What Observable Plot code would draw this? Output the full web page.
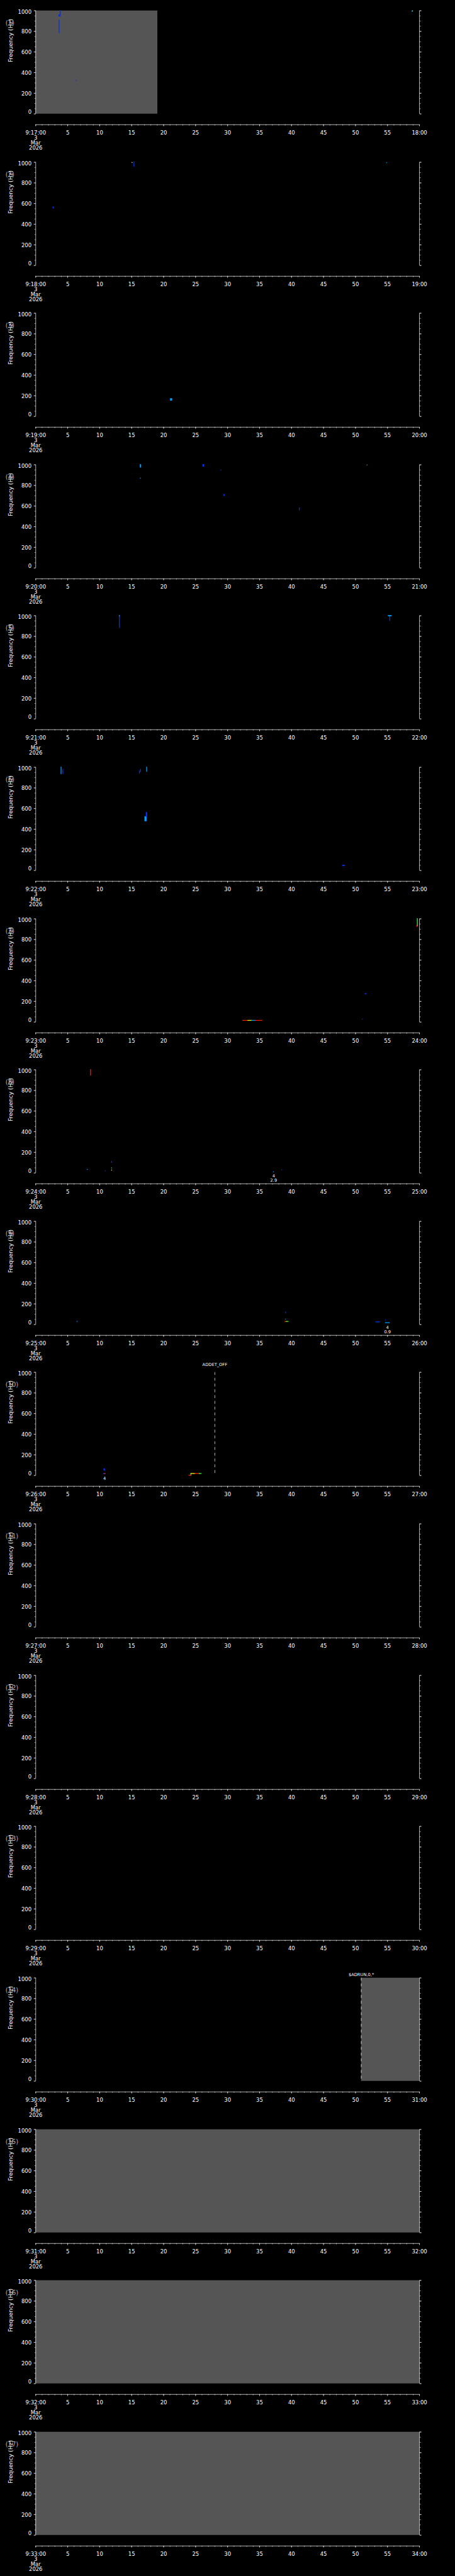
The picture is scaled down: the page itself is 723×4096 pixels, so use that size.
<!DOCTYPE html>
<html><head><meta charset="utf-8">
<script src="https://cdn.jsdelivr.net/npm/d3@7"></script>
<script src="https://cdn.jsdelivr.net/npm/@observablehq/plot@0.6"></script>
<style>html,body{margin:0;padding:0;background:#000;} #chart svg{display:block;}</style>
</head><body><div id="chart"></div>
<script>
// ---- tick labels ----
const startLabels = ["9:17:00","9:18:00","9:19:00","9:20:00","9:21:00","9:22:00","9:23:00","9:24:00","9:25:00","9:26:00","9:27:00","9:28:00","9:29:00","9:30:00","9:31:00","9:32:00","9:33:00"];
const endLabels = ["18:00","19:00","20:00","21:00","22:00","23:00","24:00","25:00","26:00","27:00","28:00","29:00","30:00","31:00","32:00","33:00","34:00"];
const dateLines = ["3", "Mar", "2026"];
const panelNames = ["(1)","(2)","(3)","(4)","(5)","(6)","(7)","(8)","(9)","(10)","(11)","(12)","(13)","(14)","(15)","(16)","(17)"];
const xMajor = [0,5,10,15,20,25,30,35,40,45,50,55,60];
const xMinor = [0,1,2,3,4,5,6,7,8,9,10,11,12,13,14,15,16,17,18,19,20,21,22,23,24,25,26,27,28,29,30,31,32,33,34,35,36,37,38,39,40,41,42,43,44,45,46,47,48,49,50,51,52,53,54,55,56,57,58,59,60];
const yMajor = [0,200,400,600,800,1000];
const yMinor = [0,50,100,150,200,250,300,350,400,450,500,550,600,650,700,750,800,850,900,950,1000];
const yTitle = "Frequency (Hz)";

// ---- no-data (gray) spans: panel, start s, end s ----
const grayPanel = [1, 14, 15, 16, 17];
const grayStart = [0, 50.9, 0, 0, 0];
const grayEnd   = [19.05, 60, 60, 60, 60];

// ---- spectrogram specks: [t0 s, t1 s, f0 Hz, f1 Hz, intensity level] ----
const levelDomain = [1, 2, 3, 4, 5];
const levelColors = ["#0030ff", "#00a0ff", "#30ff40", "#ffff00", "#ff1a00"];
const specks1 = [[3.85,3.87,958,1000,1],[3.65,3.85,945,958,1],[3.69,3.69,784,908,1],[6.36,6.36,322,322,1],[58.85,58.85,993,993,2],[58.95,58.95,996,996,4]];
const specks2 = [[2.74,2.8,555,565,1],[15.1,15.1,996,996,4],[15.4,15.4,959,1000,1],[54.9,54.9,994,994,2]];
const specks3 = [[21.1,21.3,155,170,2]];
const specks4 = [[16.38,16.45,975,1000,2],[16.4,16.4,869,869,2],[26.16,26.3,985,1000,1],[29.0,29.0,947,947,1],[29.43,29.5,700,710,1],[41.25,41.25,560,580,1],[51.85,51.85,996,996,2]];
const specks5 = [[13.12,13.12,884,1000,1],[13.12,13.12,995,1000,2],[55.39,55.39,953,1000,1],[55.16,55.62,997,1000,2]];
const specks6 = [[4.0,4.0,936,1000,2],[4.28,4.28,936,978,1],[16.24,16.24,940,963,1],[16.42,16.42,955,978,1],[17.38,17.38,959,1000,2],[17.1,17.3,479,520,2],[17.3,17.4,520,560,1],[48.0,48.3,45,48,1]];
const specks7 = [[32.4,33.2,14,14,5],[33.2,33.8,14,14,4],[33.8,34.4,14,14,2],[34.4,35.4,14,14,5],[51.1,51.1,26,26,1],[51.5,51.7,272,272,1],[59.7,59.7,930,1000,3],[59.6,59.6,925,935,5]];
const specks8 = [[8.6,8.6,946,1000,5],[8.1,8.1,33,33,2],[10.9,10.9,19,19,1],[11.9,11.9,100,108,1],[11.9,11.9,26,26,4],[11.9,11.9,47,47,3],[37.2,37.2,9,9,2],[38.5,38.5,30,30,1]];
const specks9 = [[6.5,6.5,28,28,2],[39.1,39.1,110,120,1],[39.1,39.1,50,50,2],[39.0,39.2,28,28,5],[39.2,39.5,28,28,3],[53.2,53.8,24,24,1],[54.7,54.7,41,41,1],[54.7,55.3,16,16,2]];
const specks10 = [[10.7,10.8,49,63,1],[10.6,10.75,16,16,1],[10.75,10.9,16,16,5],[24.3,24.9,17,17,4],[24.9,25.6,17,17,5],[25.6,25.9,17,17,3],[24.3,24.3,0,17,3],[24.0,24.3,0,0,5]];
const panelSpecks = [specks1,specks2,specks3,specks4,specks5,specks6,specks7,specks8,specks9,specks10,[],[],[],[],[],[],[]];

// ---- event markers (dashed lines with labels) ----
const markerPanel = [10, 14];
const markerTime = [28, 50.9];
const markerLabel = ["ADDET_OFF", "$ADRUN,0,*"];
const markerLift = {"ADDET_OFF": -17, "$ADRUN,0,*": -8};

// ---- small count notes under the plot ----
const notePanel = [8, 9, 10];
const noteTime = [37.2, 55.0, 10.75];
const noteText = ["4\n2.9", "4\n0.9", "4"];

// ---- layout ----
const SCALE = 0.705;
const W = 1024, H = 5802 / 17;
const TOP = 23.7, BOTTOM = 256.4, XAXIS = 280.7;
const fmt = d => String(d);

const chart = document.getElementById("chart");

for (let i = 0; i < 17; i++) {
  const p = i + 1;
  const gray = grayPanel.map((g, k) => ({panel: g, t0: grayStart[k], t1: grayEnd[k]})).filter(d => d.panel === p);
  const specks = panelSpecks[i].map(s => ({t0: s[0], t1: s[1], f0: s[2], f1: s[3], level: s[4]}));
  const markers = markerPanel.map((m, k) => ({panel: m, t: markerTime[k], label: markerLabel[k]})).filter(d => d.panel === p);
  const notes = notePanel.map((n, k) => ({panel: n, t: noteTime[k], label: noteText[k]})).filter(d => d.panel === p);

  const marks = [
    Plot.rect(gray, {x1: "t0", x2: "t1", y1: 0, y2: 1000, fill: "#555555"}),
    Plot.rect(specks, {x1: "t0", x2: "t1", y1: "f0", y2: "f1", fill: "level", inset: -0.9}),
    // plot-box side lines
    Plot.ruleX([0, 60], {y1: 0, y2: 1000, stroke: "#fff"}),
    // separate time-axis baseline
    Plot.ruleY([0], {dy: XAXIS - BOTTOM, stroke: "#fff"}),
    // y axes (left with labels, right ticks only)
    Plot.axisY(yMinor, {anchor: "left", tickSize: 2, tickFormat: () => "", label: null}),
    Plot.axisY(yMajor, {anchor: "left", tickSize: 4, tickFormat: () => "", label: null}),
    Plot.axisY([200, 400, 600, 800], {anchor: "left", tickSize: 0, tickPadding: 9.5, dy: 0.8, fontSize: 12, tickFormat: fmt, label: null}),
    Plot.axisY([1000], {anchor: "left", tickSize: 0, tickPadding: 9.5, dy: 3.8, fontSize: 12, tickFormat: fmt, label: null}),
    Plot.axisY([0], {anchor: "left", tickSize: 0, tickPadding: 9.5, dy: -4, fontSize: 12, tickFormat: fmt, label: null}),
    Plot.axisY(yMinor, {anchor: "right", tickSize: 2, tickFormat: () => "", label: null}),
    Plot.axisY(yMajor, {anchor: "right", tickSize: 4, tickFormat: () => "", label: null}),
    // x axis
    Plot.axisX(xMinor, {anchor: "bottom", tickSize: 2.2, tickFormat: () => "", label: null}),
    Plot.axisX(xMajor, {
      anchor: "bottom", tickSize: 4, tickPadding: 9.3, fontSize: 12, lineHeight: 0.98, label: null,
      tickFormat: d => d === 0 ? [startLabels[i], ...dateLines].join("\n") : d === 60 ? endLabels[i] : String(d)
    }),
    // y title
    Plot.text([yTitle], {frameAnchor: "left", dx: -57, y: 500, rotate: -90, fontSize: 13, fill: "#fff"}),
    // panel number
    Plot.text([panelNames[i]], {frameAnchor: "top-left", dx: -68, dy: 22.8, textAnchor: "start", fontSize: 14, fill: "#b4b4b4"}),
    // markers
    Plot.ruleX(markers, {x: "t", y1: 1000, y2: 0, stroke: "#fff", strokeDasharray: "6.5,6.5"}),
    Plot.text(markers, {x: "t", y: 1000, text: "label", dy: markers.length ? markerLift[markers[0].label] : 0, fontSize: 9.5, fill: "#fff"}),
    // notes
    Plot.text(notes, {x: "t", y: 0, text: "label", dy: 3, lineAnchor: "top", lineHeight: 1.05, fontSize: 9.5, fill: "#fff"})
  ];

  const svg = Plot.plot({
    width: W, height: H,
    marginLeft: 80, marginRight: W - 945, marginTop: TOP, marginBottom: H - XAXIS,
    x: {domain: [0, 60]},
    y: {domain: [0, 1000], range: [BOTTOM, TOP]},
    color: {type: "ordinal", domain: levelDomain, range: levelColors},
    style: {background: "#000", color: "#fff", fontFamily: "'DejaVu Sans', sans-serif", fontSize: "12px", overflow: "visible"},
    marks
  });
  svg.setAttribute("width", W * SCALE);
  svg.setAttribute("height", H * SCALE);
  svg.style.maxWidth = "none";
  svg.style.height = (H * SCALE) + "px";
  svg.style.width = (W * SCALE) + "px";
  chart.appendChild(svg);
}
</script></body></html>
